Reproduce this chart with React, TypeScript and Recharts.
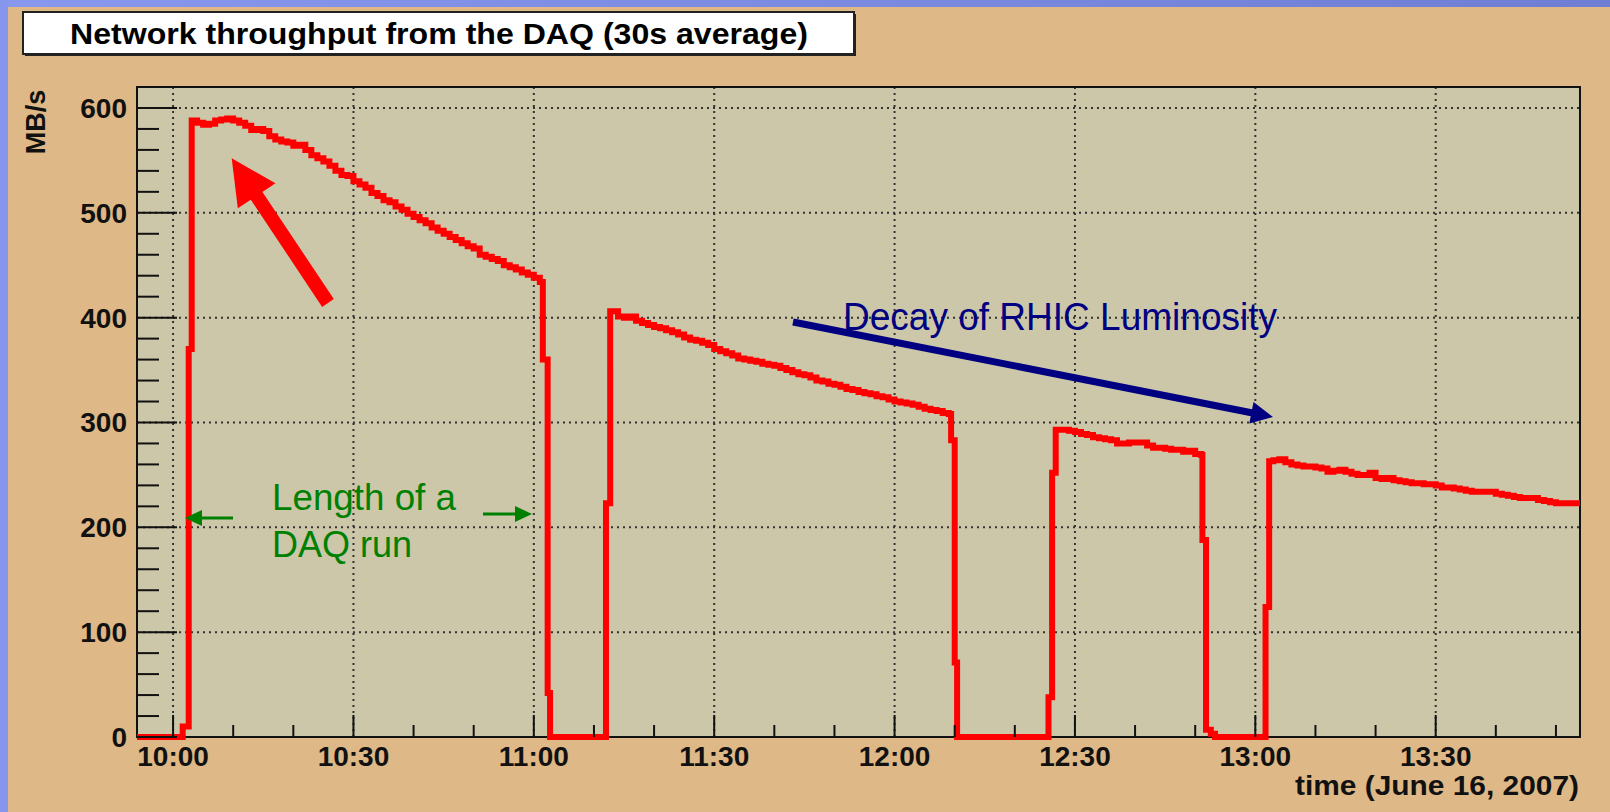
import { LineChart, Line, XAxis, YAxis, CartesianGrid, ReferenceArea } from "recharts";

// minutes after 10:00, MB/s (30s average)
const run1: [number, number][] = [
  [-6, 0], [1.6, 10], [2.6, 370], [3.1, 588], [4, 586], [5, 584], [6, 585], [7, 588], [8, 589], [9, 590],
  [10, 588], [11, 586], [12, 583], [13, 579], [14, 580], [15, 578], [16, 573], [17, 570], [18, 568], [19, 567],
  [20, 564], [21, 565], [22, 560], [23, 555], [24, 552], [25, 549], [26, 545], [27, 540], [28, 536], [29, 535],
  [30, 530], [31, 527], [32, 524], [33, 519], [34, 516], [35, 512], [36, 510], [37, 506], [38, 503], [39, 499],
  [40, 496], [41, 493], [42, 490], [43, 486], [44, 483], [45, 480], [46, 477], [47, 474], [48, 471], [49, 468],
  [50, 466], [51, 460], [52, 458], [53, 456], [54, 454], [55, 450], [56, 448], [57, 446], [58, 443], [59, 441],
  [60, 438], [61, 434], [61.5, 360], [62.3, 42], [62.7, 0],
];

const run2: [number, number][] = [
  [72, 223], [72.7, 406], [74, 401], [75, 400], [76, 401], [77, 397], [78, 395], [79, 393], [80, 391],
  [81, 390], [82, 388], [83, 386], [84, 384], [85, 381], [86, 379], [87, 378], [88, 376], [89, 374], [90, 370],
  [91, 368], [92, 366], [93, 364], [94, 361], [95, 360], [96, 359], [97, 358], [98, 356], [99, 355], [100, 354],
  [101, 352], [102, 350], [103, 348], [104, 346], [105, 345], [106, 343], [107, 340], [108, 339], [109, 337],
  [110, 336], [111, 334], [112, 332], [113, 331], [114, 329], [115, 328], [116, 327], [117, 325], [118, 324],
  [119, 322], [120, 320], [121, 319], [122, 318], [123, 317], [124, 315], [125, 313], [126, 312], [127, 311],
  [128, 309], [129, 308], [129.4, 283], [130, 71], [130.4, 0],
];

const run3: [number, number][] = [
  [145.6, 38], [146.2, 252], [146.8, 293], [148, 293], [149, 292], [150, 291], [151, 289], [152, 288],
  [153, 286], [154, 285], [155, 284], [156, 283], [157, 280], [158, 280], [159, 281], [160, 281], [161, 281],
  [162, 278], [163, 276], [164, 276], [165, 275], [166, 274], [167, 274], [168, 272], [169, 273], [170, 270],
  [171, 269], [171.2, 188], [171.8, 7], [172.6, 3], [173.3, 0],
];

const run4: [number, number][] = [
  [181.7, 124], [182.3, 263], [183, 264], [184, 265], [185, 262], [186, 260], [187, 259], [188, 258],
  [189, 258], [190, 257], [191, 256], [192, 253], [193, 254], [194, 255], [195, 253], [196, 251], [197, 250],
  [198, 250], [199, 252], [200, 247], [201, 246], [202, 247], [203, 245], [204, 244], [205, 243], [206, 242],
  [207, 242], [208, 241], [209, 241], [210, 240], [211, 238], [212, 238], [213, 237], [214, 236], [215, 235],
  [216, 234], [217, 234], [218, 234], [219, 234], [220, 232], [221, 231], [222, 230], [223, 229], [224, 228],
  [225, 228], [226, 228], [227, 226], [228, 225], [229, 224], [230, 223], [231, 223], [232, 223], [234, 223],
];

const xTicks = [0, 10, 20, 30, 40, 50, 60, 70, 80, 90, 100, 110, 120, 130, 140, 150, 160, 170, 180, 190, 200, 210, 220, 230];
const xMajor = [0, 30, 60, 90, 120, 150, 180, 210];
const xLabels = ["10:00", "10:30", "11:00", "11:30", "12:00", "12:30", "13:00", "13:30"];
const yTicks = [0, 20, 40, 60, 80, 100, 120, 140, 160, 180, 200, 220, 240, 260, 280, 300, 320, 340, 360, 380, 400, 420, 440, 460, 480, 500, 520, 540, 560, 580, 600];
const yMajor = [0, 100, 200, 300, 400, 500, 600];

const data = [...run1, ...run2, ...run3, ...run4].map(([t, v]) => ({ t, v }));

const FONT = '"Liberation Sans", Arial, Helvetica, sans-serif';

function YTick(props: any) {
  const { x, y, payload } = props;
  const major = yMajor.includes(payload.value);
  return (
    <g>
      <line x1={x} x2={x + (major ? 40 : 22)} y1={y} y2={y} stroke="#111" strokeWidth={2} />
      {major && (
        <text x={x - 10} y={y} dy={10} textAnchor="end" fontFamily={FONT} fontWeight="bold" fontSize={28} fill="#111">
          {payload.value}
        </text>
      )}
    </g>
  );
}

function XTick(props: any) {
  const { x, y, payload } = props;
  const i = xMajor.indexOf(payload.value);
  const major = i >= 0;
  return (
    <g>
      <line x1={x} x2={x} y1={y} y2={y - (major ? 22 : 12)} stroke="#111" strokeWidth={2} />
      {major && (
        <text x={x} y={y + 29} textAnchor="middle" fontFamily={FONT} fontWeight="bold" fontSize={28} fill="#111">
          {xLabels[i]}
        </text>
      )}
    </g>
  );
}

function arrow(x1: number, y1: number, x2: number, y2: number, shaft: number, headLen: number, headHalf: number) {
  const dx = x2 - x1;
  const dy = y2 - y1;
  const len = Math.hypot(dx, dy);
  const ux = dx / len;
  const uy = dy / len;
  const nx = -uy;
  const ny = ux;
  const bx = x2 - ux * headLen;
  const by = y2 - uy * headLen;
  const s = shaft / 2;
  const pts = [
    [x1 + nx * s, y1 + ny * s],
    [bx + nx * s, by + ny * s],
    [bx + nx * headHalf, by + ny * headHalf],
    [x2, y2],
    [bx - nx * headHalf, by - ny * headHalf],
    [bx - nx * s, by - ny * s],
    [x1 - nx * s, y1 - ny * s],
  ];
  return pts.map((p) => p.join(",")).join(" ");
}

export default function App() {
  return (
    <div style={{ position: "absolute", left: 0, top: 0, width: 1610, height: 812, background: "#DEB887", overflow: "hidden" }}>
      <div style={{ position: "absolute", left: 0, top: 0, width: 1610, height: 7, background: "linear-gradient(90deg, #8898EE, #6E7ED2)" }} />
      <div style={{ position: "absolute", left: 0, top: 0, width: 8, height: 812, background: "#8696EC" }} />

      <div style={{ position: "absolute", left: 0, top: 0 }}>
        <LineChart width={1610} height={812} data={data} margin={{ top: 87, right: 30, bottom: 35, left: 77 }}>
          <CartesianGrid
            fill="#CCC7A9"
            stroke="#333"
            strokeWidth={2}
            strokeDasharray="2 4"
            horizontalValues={yMajor.slice(1)}
            verticalValues={xMajor}
          />
          <XAxis
            dataKey="t"
            type="number"
            domain={[-6, 234]}
            ticks={xTicks}
            interval={0}
            height={40}
            tickSize={0}
            tickMargin={0}
            axisLine={false}
            tick={(p: any) => <XTick {...p} />}
          />
          <YAxis
            type="number"
            domain={[0, 620]}
            ticks={yTicks}
            interval={0}
            width={60}
            tickSize={0}
            tickMargin={0}
            axisLine={false}
            tick={(p: any) => <YTick {...p} />}
          />
          <ReferenceArea x1={-6} x2={234} y1={0} y2={620} fill="none" stroke="#111" strokeWidth={2} />
          <Line type="stepAfter" dataKey="v" stroke="#FF0000" strokeWidth={6} dot={false} isAnimationActive={false} />
        </LineChart>
      </div>

      <svg width={1610} height={812} style={{ position: "absolute", left: 0, top: 0, pointerEvents: "none" }}>
        {/* title box */}
        <rect x={25} y={14} width={831} height={42} fill="#222" />
        <rect x={23} y={12} width={831} height={42} fill="#fff" stroke="#222" strokeWidth={2} />
        <text x={439} y={44} textAnchor="middle" fontFamily={FONT} fontWeight="bold" fontSize={29} textLength={738} lengthAdjust="spacingAndGlyphs" fill="#000">
          Network throughput from the DAQ (30s average)
        </text>

        {/* axis titles */}
        <text x={45} y={122} transform="rotate(-90 45 122)" textAnchor="middle" fontFamily={FONT} fontWeight="bold" fontSize={27} fill="#111">
          MB/s
        </text>
        <text x={1579} y={795} textAnchor="end" fontFamily={FONT} fontWeight="bold" fontSize={27} textLength={284} lengthAdjust="spacingAndGlyphs" fill="#111">
          time (June 16, 2007)
        </text>

        {/* annotations */}
        <polygon points={arrow(328, 303, 231.7, 158.3, 14, 45, 22.6)} fill="#FF0000" />
        <polygon points={arrow(793, 322, 1273, 417, 7, 22, 11)} fill="#000080" />
        <text x={843} y={330} fontFamily={FONT} fontSize={38} textLength={434} lengthAdjust="spacingAndGlyphs" fill="#000080">
          Decay of RHIC Luminosity
        </text>

        <polygon points={arrow(233, 518, 185, 518, 3, 17, 8)} fill="#008000" />
        <polygon points={arrow(483, 514, 532, 514, 3, 17, 8)} fill="#008000" />
        <text x={272} y={510} fontFamily={FONT} fontSize={37} textLength={184} lengthAdjust="spacingAndGlyphs" fill="#008000">
          Length of a
        </text>
        <text x={272} y={557} fontFamily={FONT} fontSize={37} textLength={140} lengthAdjust="spacingAndGlyphs" fill="#008000">
          DAQ run
        </text>
      </svg>
    </div>
  );
}
